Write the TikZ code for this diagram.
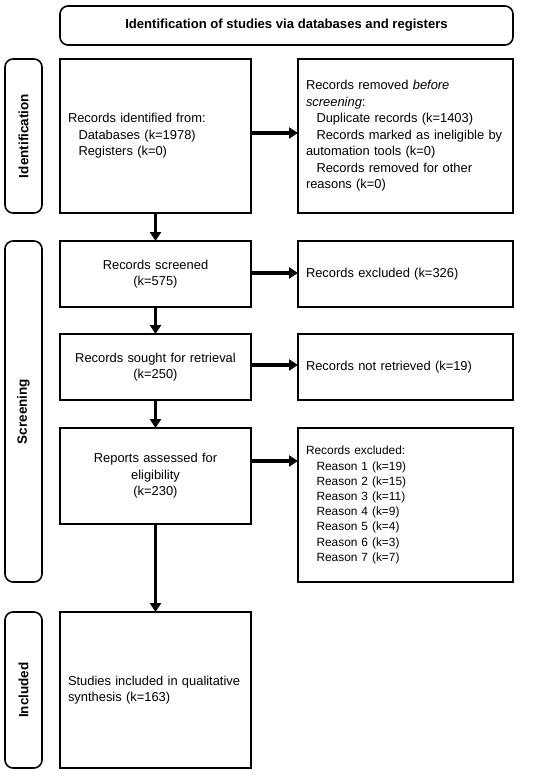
\documentclass[tikz,border=0pt]{standalone}
\usepackage{fontspec}
\setmainfont{Liberation Sans}
\usetikzlibrary{arrows.meta}
\newcommand{\ind}{\hspace*{10.5pt}}
\begin{document}
\begin{tikzpicture}[x=1pt,y=-1pt,
  box/.style={draw, line width=1.9pt, inner ysep=0pt, inner xsep=8pt, outer sep=0pt,
    font=\fontsize{12.9}{16.5}\selectfont},
  lbox/.style={box, align=left},
  cbox/.style={box, align=center},
  side/.style={draw, line width=1.6pt, rounded corners=8pt, inner sep=0pt, rotate=90,
    font=\bfseries\fontsize{13.5}{15}\selectfont},
  arr/.style={line width=3.6pt, -{Triangle[length=9pt,width=11pt]}}]
\useasboundingbox (0,0) rectangle (550,776);

\node[draw, line width=1.6pt, rounded corners=8pt, minimum width=453pt, minimum height=39pt,
  font=\bfseries\fontsize{13.1}{15}\selectfont] (head) at (286.5,25.5)
  {Identification of studies via databases and registers};

\node[side, minimum width=154pt, minimum height=37pt] (sid) at (23.5,136) {Identification};
\node[side, minimum width=341pt, minimum height=37pt] (sscr) at (23.5,411.5) {Screening};
\node[side, minimum width=156pt, minimum height=37pt] (sinc) at (23.5,690) {Included};

\node[lbox, text width=175pt, minimum height=154pt] (A) at (155.5,136)
  {Records identified from:\\ \ind Databases (k=1978)\\ \ind Registers (k=0)};
\node[lbox, text width=199pt, minimum height=154pt] (B) at (405.5,136)
  {Records removed \textit{before}\\ \textit{screening}:\\ \ind Duplicate records (k=1403)\\
   \ind Records marked as ineligible by\\ automation tools (k=0)\\
   \ind Records removed for other\\ reasons (k=0)};

\node[cbox, text width=175pt, minimum height=66pt] (C) at (155.5,274)
  {Records screened\\ (k=575)};
\node[lbox, text width=199pt, minimum height=66pt] (D) at (405.5,274)
  {Records excluded (k=326)};

\node[cbox, text width=175pt, minimum height=66pt] (E) at (155.5,367)
  {Records sought for retrieval\\ (k=250)};
\node[lbox, text width=199pt, minimum height=66pt] (F) at (405.5,367)
  {Records not retrieved (k=19)};

\node[cbox, text width=175pt, minimum height=96pt] (G) at (155.5,476)
  {Reports assessed for\\ eligibility\\ (k=230)};
\node[lbox, text width=199pt, minimum height=154pt, font=\fontsize{11.9}{15.2}\selectfont] (H) at (405.5,505)
  {Records excluded:\\ \ind Reason 1 (k=19)\\ \ind Reason 2 (k=15)\\ \ind Reason 3 (k=11)\\
   \ind Reason 4 (k=9)\\ \ind Reason 5 (k=4)\\ \ind Reason 6 (k=3)\\ \ind Reason 7 (k=7)};

\node[lbox, text width=175pt, minimum height=156pt] (I) at (155.5,690)
  {Studies included in qualitative\\ synthesis (k=163)};

\draw[arr] (A) -- (C);
\draw[arr] (C) -- (E);
\draw[arr] (E) -- (G);
\draw[arr] (G) -- (I);
\draw[arr] ([yshift=3pt]A.east) -- ([yshift=3pt]A.east -| B.west);
\draw[arr] ([yshift=1pt]C.east) -- ([yshift=1pt]C.east -| D.west);
\draw[arr] ([yshift=2pt]E.east) -- ([yshift=2pt]E.east -| F.west);
\draw[arr] ([yshift=15pt]G.east) -- ([yshift=15pt]G.east -| H.west);
\end{tikzpicture}
\end{document}
